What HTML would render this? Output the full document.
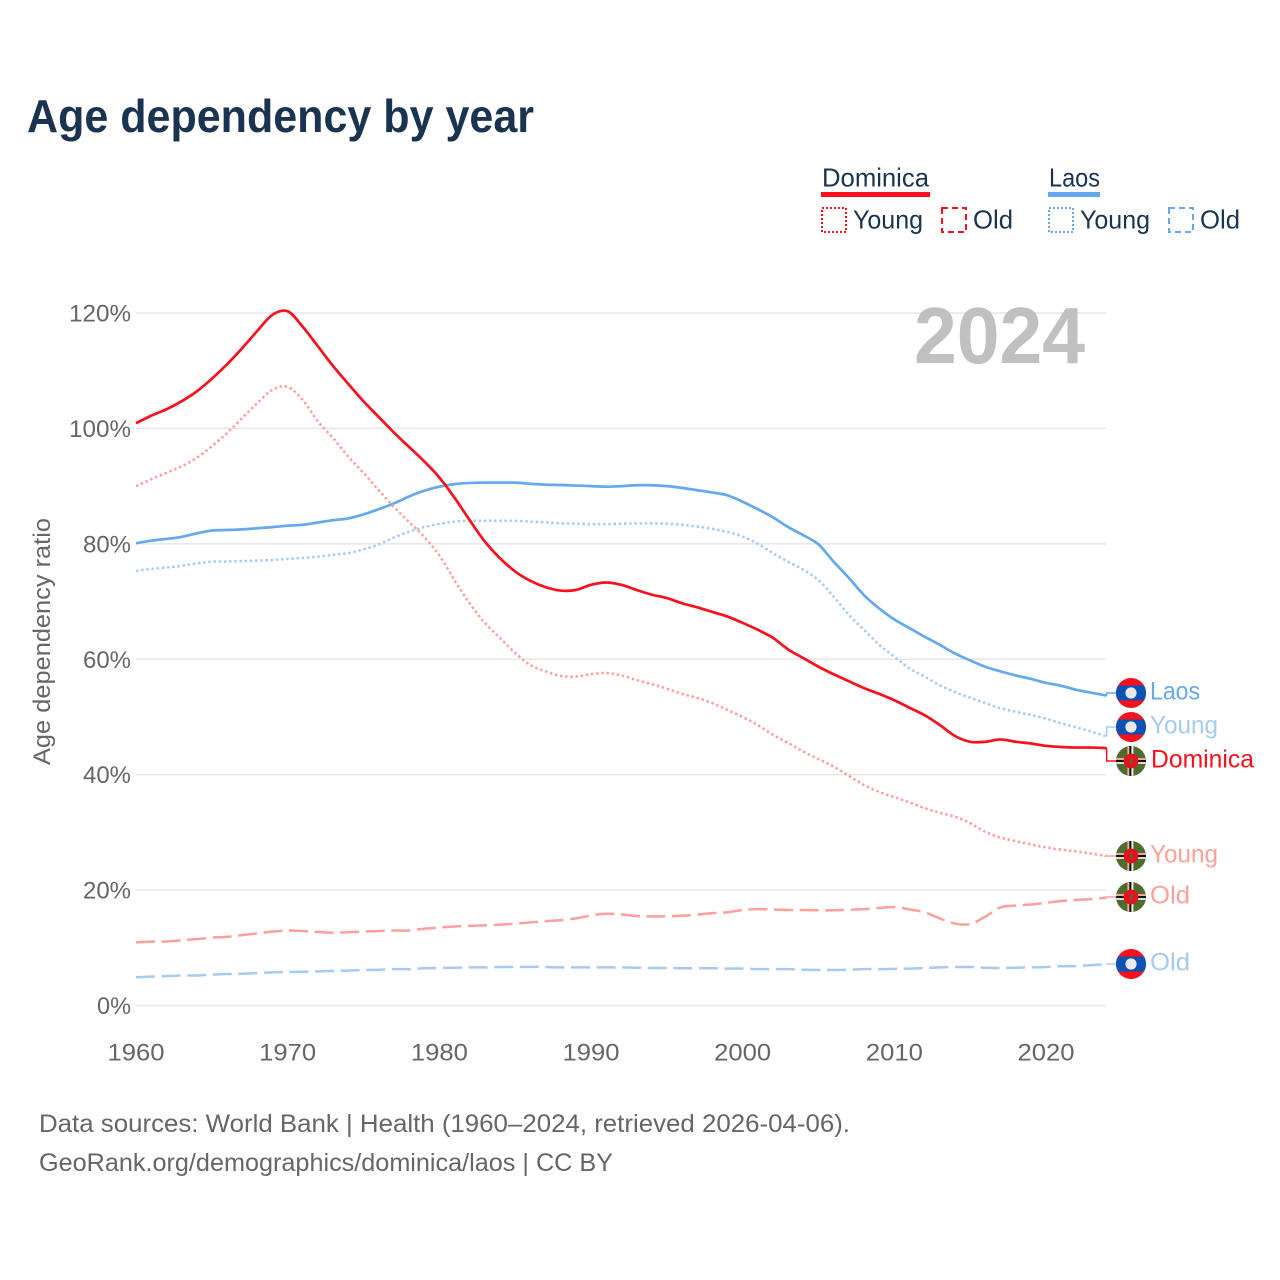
<!DOCTYPE html>
<html lang="en">
<head>
<meta charset="utf-8">
<title>Age dependency by year</title>
<style>
html,body{margin:0;padding:0;background:#fff;width:1280px;height:1280px;overflow:hidden}
svg{display:block}
text{font-family:"Liberation Sans",sans-serif}
</style>
</head>
<body>
<svg id="chart" xmlns="http://www.w3.org/2000/svg" width="1280" height="1280" viewBox="0 0 1280 1280">
<defs>
<clipPath id="flag-clip"><circle cx="0" cy="0" r="15"/></clipPath>
<g id="flag-laos" clip-path="url(#flag-clip)">
<rect x="-15" y="-15" width="30" height="30" fill="#f9101c"/>
<rect x="-15" y="-7.5" width="30" height="15" fill="#0a52b5"/>
<circle cx="0" cy="0" r="5.6" fill="#e9e9ef"/>
</g>
<g id="flag-dominica" clip-path="url(#flag-clip)">
<rect x="-15" y="-15" width="30" height="30" fill="#4f6b2e"/>
<rect x="-3.6" y="-15" width="2" height="30" fill="#f5a898"/>
<rect x="-1.6" y="-15" width="2" height="30" fill="#111"/>
<rect x="0.4" y="-15" width="2" height="30" fill="#eee"/>
<rect x="-15" y="-3" width="30" height="2" fill="#f5a898"/>
<rect x="-15" y="-1" width="30" height="2" fill="#111"/>
<rect x="-15" y="1" width="30" height="2" fill="#ddd"/>
<circle cx="0" cy="0" r="7.4" fill="#e5131d"/>
<rect x="-0.8" y="-3" width="2" height="6" fill="#4f6b2e"/>
</g>
</defs>

<text x="27" y="132" font-size="46" font-weight="700" fill="#1a3350" textLength="507" lengthAdjust="spacingAndGlyphs">Age dependency by year</text>

<g>
<text x="822" y="186.5" font-size="26" fill="#1a3350" textLength="107" lengthAdjust="spacingAndGlyphs">Dominica</text>
<rect x="821" y="192" width="109" height="5" fill="#f9101c"/>
<rect x="822" y="208" width="24" height="24" fill="none" stroke="#f9101c" stroke-width="2" stroke-dasharray="2 2"/>
<text x="853" y="228.5" font-size="26" fill="#1a3350" textLength="70" lengthAdjust="spacingAndGlyphs">Young</text>
<rect x="942" y="208" width="24" height="24" fill="none" stroke="#f9101c" stroke-width="2" stroke-dasharray="6 4"/>
<text x="973" y="228.5" font-size="26" fill="#1a3350" textLength="40" lengthAdjust="spacingAndGlyphs">Old</text>
<text x="1049" y="186.5" font-size="26" fill="#1a3350" textLength="51" lengthAdjust="spacingAndGlyphs">Laos</text>
<rect x="1048" y="192" width="52" height="5" fill="#64a8ee"/>
<rect x="1049" y="208" width="24" height="24" fill="none" stroke="#64a8ee" stroke-width="2" stroke-dasharray="2 2"/>
<text x="1080" y="228.5" font-size="26" fill="#1a3350" textLength="70" lengthAdjust="spacingAndGlyphs">Young</text>
<rect x="1169" y="208" width="24" height="24" fill="none" stroke="#64a8ee" stroke-width="2" stroke-dasharray="6 4"/>
<text x="1200" y="228.5" font-size="26" fill="#1a3350" textLength="40" lengthAdjust="spacingAndGlyphs">Old</text>
</g>

<g id="grid"></g>
<g id="y-ticks"></g>
<g id="x-ticks"></g>
<text x="914" y="363" font-size="80" font-weight="700" fill="#c0c0c0" textLength="171" lengthAdjust="spacingAndGlyphs">2024</text>
<text transform="translate(50,765) rotate(-90)" x="0" y="0" font-size="24" fill="#666" textLength="247" lengthAdjust="spacingAndGlyphs">Age dependency ratio</text>

<g id="series"></g>

<g>
<use href="#flag-laos" x="1131" y="693"/>
<text x="1150" y="699.5" font-size="25" fill="#64a8ee" textLength="50" lengthAdjust="spacingAndGlyphs">Laos</text>
<use href="#flag-laos" x="1131" y="727"/>
<text x="1150" y="733.5" font-size="25" fill="#a6cbf2" textLength="68" lengthAdjust="spacingAndGlyphs">Young</text>
<use href="#flag-dominica" x="1131" y="761"/>
<text x="1151" y="767.5" font-size="25" fill="#f9101c" textLength="103" lengthAdjust="spacingAndGlyphs">Dominica</text>
<use href="#flag-dominica" x="1131" y="856"/>
<text x="1150" y="862.5" font-size="25" fill="#ff9f9c" textLength="68" lengthAdjust="spacingAndGlyphs">Young</text>
<use href="#flag-dominica" x="1131" y="897"/>
<text x="1150" y="903.5" font-size="25" fill="#ff9f9c" textLength="40" lengthAdjust="spacingAndGlyphs">Old</text>
<use href="#flag-laos" x="1131" y="964"/>
<text x="1150" y="970.5" font-size="25" fill="#a6cbf2" textLength="40" lengthAdjust="spacingAndGlyphs">Old</text>
</g>

<text x="39" y="1132" font-size="25" fill="#666" textLength="811" lengthAdjust="spacingAndGlyphs">Data sources: World Bank | Health (1960–2024, retrieved 2026-04-06).</text>
<text x="39" y="1171" font-size="25" fill="#666" textLength="574" lengthAdjust="spacingAndGlyphs">GeoRank.org/demographics/dominica/laos | CC BY</text>
</svg>

<script>
const firstYear = 1960;
const yTickValues = [0, 20, 40, 60, 80, 100, 120];
const yTickLabels = ["0%", "20%", "40%", "60%", "80%", "100%", "120%"];
const xTickValues = [1960, 1970, 1980, 1990, 2000, 2010, 2020];
const xTickLabels = ["1960", "1970", "1980", "1990", "2000", "2010", "2020"];

const laosTotal = [80.1,80.55,80.85,81.2,81.8,82.3,82.4,82.5,82.7,82.9,83.15,83.3,83.7,84.1,84.4,85.1,86,87,88.2,89.2,89.9,90.35,90.55,90.6,90.6,90.6,90.4,90.25,90.2,90.1,90,89.9,90,90.15,90.15,90,89.7,89.3,88.9,88.4,87.3,86,84.6,82.9,81.5,79.9,76.9,74.1,71.1,68.8,66.9,65.4,63.9,62.5,61,59.8,58.7,57.9,57.2,56.6,55.9,55.4,54.7,54.2,53.7];
const laosYoung = [75.3,75.65,75.9,76.2,76.6,76.9,76.95,77,77.1,77.2,77.4,77.55,77.8,78.1,78.4,79.05,79.9,81.1,82.1,82.9,83.45,83.85,84,84,84,84,83.85,83.7,83.55,83.5,83.4,83.4,83.5,83.55,83.55,83.5,83.3,83,82.6,82.05,81.25,80,78.4,76.9,75.5,73.7,70.85,67.7,65.1,62.5,60.45,58.4,57,55.5,54.3,53.35,52.4,51.5,50.9,50.35,49.7,48.9,48.2,47.45,46.6];
const laosOld = [4.9,5,5.1,5.2,5.2,5.35,5.45,5.5,5.6,5.75,5.8,5.85,5.9,6,6.05,6.15,6.2,6.3,6.3,6.45,6.5,6.55,6.6,6.6,6.67,6.67,6.7,6.67,6.6,6.6,6.6,6.6,6.6,6.55,6.5,6.5,6.45,6.45,6.45,6.4,6.4,6.3,6.3,6.3,6.2,6.15,6.15,6.2,6.3,6.3,6.35,6.4,6.5,6.6,6.67,6.67,6.55,6.5,6.55,6.6,6.67,6.8,6.85,7,7.2];
const dominicaTotal = [100.9,102.2,103.3,104.7,106.4,108.6,111.1,113.9,116.9,119.7,120.3,117.6,114.2,110.8,107.7,104.7,102,99.3,96.8,94.3,91.5,88,84.1,80.4,77.5,75.2,73.6,72.5,71.9,72,72.9,73.3,72.9,72,71.2,70.6,69.7,69,68.2,67.4,66.3,65.1,63.7,61.7,60.2,58.7,57.4,56.2,55,54,52.9,51.6,50.3,48.6,46.7,45.7,45.7,46.1,45.7,45.4,45,44.8,44.7,44.7,44.6];
const dominicaYoung = [90,91.2,92.3,93.4,94.9,96.9,99.2,101.8,104.4,106.7,107.2,104.9,101.2,98.3,95.1,92.3,89.3,86.4,83.8,81.2,78,73.7,69.7,66.3,63.7,61.1,59,57.9,57.1,57,57.4,57.6,57.2,56.4,55.7,54.9,54,53.3,52.4,51.2,50,48.6,46.9,45.5,44,42.7,41.4,39.8,38.2,37,36.1,35.2,34.2,33.4,32.7,31.6,30.1,29.1,28.5,27.9,27.4,27,26.7,26.3,25.9];
const dominicaOld = [10.95,11.06,11.1,11.3,11.5,11.75,11.9,12.2,12.5,12.8,13,12.9,12.75,12.6,12.7,12.8,12.9,13,13,13.3,13.5,13.7,13.8,13.9,14,14.2,14.4,14.6,14.8,15.1,15.6,15.9,15.8,15.5,15.45,15.45,15.55,15.75,16,16.15,16.55,16.7,16.65,16.55,16.55,16.5,16.5,16.6,16.7,16.9,17.05,16.65,16.15,15.1,14.2,14.1,15.4,17,17.3,17.5,17.8,18.1,18.3,18.45,18.7];

const svgNS = "http://www.w3.org/2000/svg";
function xScale(year) { return 136 + (year - 1960) * (910 / 60); }
function yScale(v) { return 1005.5 - v * (692.5 / 120); }
function make(tag, attrs, parent) {
  const el = document.createElementNS(svgNS, tag);
  for (const k in attrs) el.setAttribute(k, attrs[k]);
  parent.appendChild(el);
  return el;
}

const gridGroup = document.getElementById("grid");
const yGroup = document.getElementById("y-ticks");
const xGroup = document.getElementById("x-ticks");
const seriesGroup = document.getElementById("series");

yTickValues.forEach(function (v, i) {
  const line = make("line", {x1: 136, x2: 1106, y1: yScale(v), y2: yScale(v), stroke: "#e6e6ea", "stroke-width": 1.5}, gridGroup);
  
  
  const label = yTickLabels[i];
  const width = label.length === 2 ? 34 : (label.length === 3 ? 48 : 62);
  const t = make("text", {x: 131 - width, y: yScale(v) + 8.5, "font-size": 24, fill: "#666", textLength: width, lengthAdjust: "spacingAndGlyphs"}, yGroup);
  t.textContent = label;
  
  
});

xTickValues.forEach(function (year, i) {
  const t = make("text", {x: xScale(year) - 28.5, y: 1060.5, "font-size": 24, fill: "#666", textLength: 57, lengthAdjust: "spacingAndGlyphs"}, xGroup);
  t.textContent = xTickLabels[i];
  
  
});

function smoothPath(px) {
  let d = "M" + px[0][0].toFixed(2) + " " + px[0][1].toFixed(2);
  for (let i = 0; i < px.length - 1; i++) {
    const p0 = px[Math.max(i - 1, 0)];
    const p1 = px[i];
    const p2 = px[i + 1];
    const p3 = px[Math.min(i + 2, px.length - 1)];
    const c1x = p1[0] + (p2[0] - p0[0]) / 6;
    const c1y = p1[1] + (p2[1] - p0[1]) / 6;
    const c2x = p2[0] - (p3[0] - p1[0]) / 6;
    const c2y = p2[1] - (p3[1] - p1[1]) / 6;
    d += "C" + c1x.toFixed(2) + " " + c1y.toFixed(2) + " " + c2x.toFixed(2) + " " + c2y.toFixed(2) + " " + p2[0].toFixed(2) + " " + p2[1].toFixed(2);
  }
  return d;
}

function drawSeries(values, color, dash, width, labelY, seriesName) {
  const px = values.map(function (v, i) {
    return [xScale(firstYear + i), yScale(v)];
  });
  const attrs = {d: smoothPath(px), fill: "none", stroke: color, "stroke-width": width, "stroke-linejoin": "round"};
  if (dash) attrs["stroke-dasharray"] = dash;
  const line = make("path", attrs, seriesGroup);
  
  
  const endX = xScale(firstYear + values.length - 1);
  const endY = yScale(values[values.length - 1]);
  const conn = make("polyline", {
    points: endX + "," + endY + " " + endX + "," + labelY + " 1117," + labelY,
    fill: "none", stroke: color, "stroke-width": 1.5
  }, seriesGroup);
  
  
}

drawSeries(laosOld, "#a6cbf2", "19 6.6", 2.5, 964, "line-laos-old");
drawSeries(laosYoung, "#a6cbf2", "2.5 2.7", 2.5, 727, "line-laos-young");
drawSeries(laosTotal, "#64a8ee", null, 2.7, 693, "line-laos-total");
drawSeries(dominicaOld, "#ff9f9c", "19 6.6", 2.5, 897, "line-dominica-old");
drawSeries(dominicaYoung, "#ff9f9c", "2.5 2.7", 2.5, 856, "line-dominica-young");
drawSeries(dominicaTotal, "#f9101c", null, 2.7, 761, "line-dominica-total");
</script>
</body>
</html>
